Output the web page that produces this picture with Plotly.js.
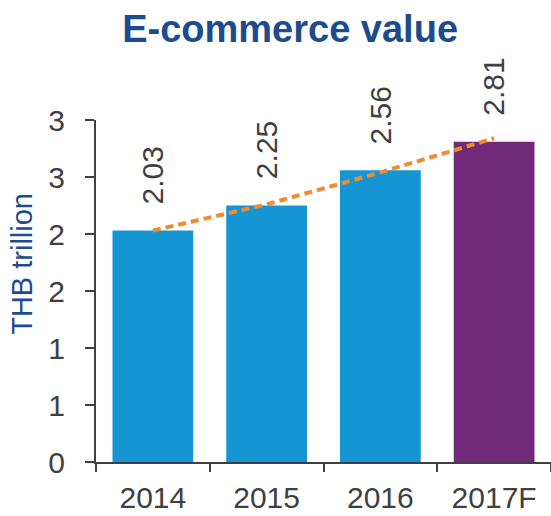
<!DOCTYPE html>
<html>
<head>
<meta charset="utf-8">
<script src="https://cdn.plot.ly/plotly-3.0.1.min.js"></script>
<style>html,body{margin:0;padding:0;background:#fff}#chart{width:551px;height:516px}</style>
</head>
<body>
<div id="chart"></div>
<script>
var categories = ["2014", "2015", "2016", "2017F"];
var values = [2.03, 2.25, 2.56, 2.81];
var valueLabels = ["2.03", "2.25", "2.56", "2.81"];
var barColors = ["#1596D3", "#1596D3", "#1596D3", "#712979"];
var trendValues = [2.03, 2.26, 2.54, 2.84];
var yTickVals = [0, 0.5, 1, 1.5, 2, 2.5, 3];
var yTickText = ["0", "1", "1", "2", "2", "3", "3"];

var FONT = "Liberation Sans, Arial, sans-serif";
var GREY = "#404040";
var BLUE = "#1D4C8E";

var traces = [
  {
    type: "bar",
    x: categories,
    y: values,
    marker: {color: barColors, line: {width: 0}},
    hoverinfo: "none"
  },
  {
    type: "scatter",
    mode: "lines",
    x: categories,
    y: trendValues,
    line: {color: "#F18B2D", width: 4, dash: "8px,5px"},
    hoverinfo: "none",
    cliponaxis: false
  }
];

var annotations = categories.map(function (c, i) {
  return {
    x: i, y: values[i], xref: "x", yref: "y",
    text: valueLabels[i], textangle: -90,
    showarrow: false, xanchor: "center", yanchor: "bottom", yshift: 24,
    font: {family: FONT, size: 30, color: GREY}
  };
});
annotations.push({
  x: -0.163, y: 0.579, xref: "paper", yref: "paper",
  text: "THB trillion", textangle: -90, showarrow: false,
  xanchor: "center", yanchor: "middle",
  font: {family: FONT, size: 29, color: BLUE}
});

var layout = {
  width: 551, height: 516,
  margin: {l: 96, r: 0, t: 120, b: 54},
  paper_bgcolor: "#fff", plot_bgcolor: "#fff",
  showlegend: false,
  bargap: 0.29,
  title: {
    text: "<b>E-commerce value</b>",
    x: 0.5265, xref: "container", xanchor: "center",
    y: 0.944, yref: "container", yanchor: "middle",
    font: {family: FONT, size: 38, color: BLUE}
  },
  xaxis: {
    type: "category",
    range: [-0.5, 3.5], autorange: false,
    showgrid: false, zeroline: false,
    showline: true, linecolor: GREY, linewidth: 2,
    ticks: "outside", tickson: "boundaries", ticklen: 8, tickwidth: 2, tickcolor: GREY,
    tickfont: {family: FONT, size: 30, color: GREY},
    tickangle: 0,
    ticklabelstandoff: 8
  },
  yaxis: {
    range: [0, 3], autorange: false, showgrid: false, zeroline: false,
    showline: true, linecolor: GREY, linewidth: 2,
    ticks: "outside", ticklen: 9, tickwidth: 2, tickcolor: GREY,
    tickvals: yTickVals, ticktext: yTickText,
    tickfont: {family: FONT, size: 30, color: GREY},
    ticklabelstandoff: 14
  },
  annotations: annotations
};

Plotly.newPlot("chart", traces, layout, {displayModeBar: false, staticPlot: true});
</script>
</body>
</html>
